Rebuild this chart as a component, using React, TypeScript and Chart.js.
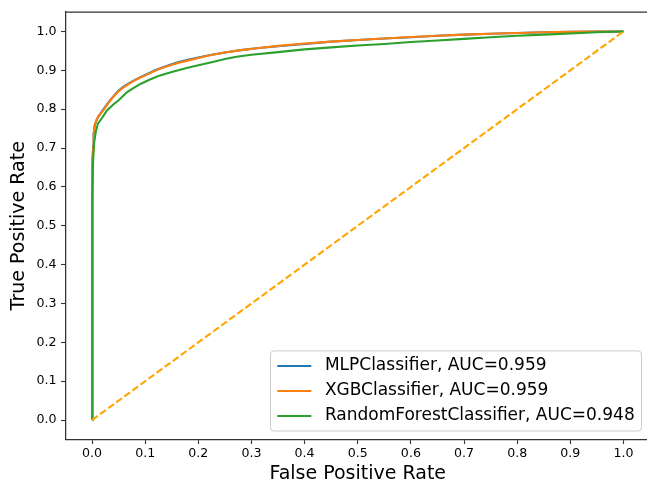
import React, { useEffect, useRef } from 'react';
import { Chart, registerables } from 'chart.js';

Chart.register(...registerables);

// ---- data ----
const xgbFpr = [0, 0, 0.001, 0.002, 0.003, 0.005, 0.008, 0.012, 0.017, 0.022, 0.03, 0.04, 0.05, 0.06, 0.07, 0.08, 0.09, 0.10, 0.12, 0.14, 0.16, 0.18, 0.20, 0.22, 0.25, 0.28, 0.31, 0.35, 0.40, 0.45, 0.50, 0.55, 0.60, 0.65, 0.70, 0.75, 0.80, 0.85, 0.90, 0.95, 1.0];
const xgbTpr = [0, 0.50, 0.65, 0.70, 0.735, 0.76, 0.772, 0.782, 0.79, 0.799, 0.815, 0.832, 0.846, 0.857, 0.866, 0.874, 0.881, 0.887, 0.9, 0.91, 0.918, 0.925, 0.932, 0.938, 0.946, 0.952, 0.957, 0.963, 0.969, 0.974, 0.978, 0.982, 0.986, 0.989, 0.992, 0.994, 0.996, 0.998, 0.999, 1.0, 1.0];

const mlpFpr = [0, 0, 0.001, 0.002, 0.003, 0.005, 0.008, 0.012, 0.017, 0.022, 0.03, 0.04, 0.05, 0.06, 0.07, 0.08, 0.09, 0.10, 0.12, 0.14, 0.16, 0.18, 0.20, 0.22, 0.25, 0.28, 0.31, 0.35, 0.40, 0.45, 0.50, 0.55, 0.60, 0.65, 0.70, 0.75, 0.80, 0.85, 0.90, 0.95, 1.0];
const mlpTpr = [0, 0.52, 0.66, 0.705, 0.738, 0.758, 0.77, 0.781, 0.791, 0.801, 0.816, 0.833, 0.848, 0.859, 0.867, 0.875, 0.882, 0.888, 0.901, 0.911, 0.92, 0.927, 0.933, 0.939, 0.946, 0.952, 0.957, 0.962, 0.968, 0.974, 0.978, 0.982, 0.985, 0.989, 0.992, 0.994, 0.996, 0.998, 0.999, 1.0, 1.0];

const rfFpr = [0, 0, 0.001, 0.002, 0.004, 0.007, 0.011, 0.019, 0.028, 0.04, 0.05, 0.066, 0.08, 0.091, 0.11, 0.128, 0.15, 0.178, 0.2, 0.229, 0.25, 0.272, 0.3, 0.35, 0.4, 0.45, 0.5, 0.55, 0.6, 0.65, 0.7, 0.75, 0.8, 0.85, 0.9, 0.95, 1.0];
const rfTpr = [0, 0.30, 0.58, 0.67, 0.715, 0.742, 0.763, 0.778, 0.797, 0.812, 0.823, 0.844, 0.856, 0.865, 0.877, 0.887, 0.896, 0.906, 0.913, 0.922, 0.929, 0.935, 0.94, 0.947, 0.954, 0.959, 0.964, 0.968, 0.973, 0.977, 0.981, 0.985, 0.989, 0.992, 0.995, 0.998, 1.0];

const chanceFpr = [0, 1];
const chanceTpr = [0, 1];

const seriesLabels = ['MLPClassifier, AUC=0.959', 'XGBClassifier, AUC=0.959', 'RandomForestClassifier, AUC=0.948'];
const seriesColors = ['#1f77b4', '#ff7f0e', '#2ca02c'];

const xTicks = [0.0, 0.1, 0.2, 0.3, 0.4, 0.5, 0.6, 0.7, 0.8, 0.9, 1.0];
const yTicks = [0.0, 0.1, 0.2, 0.3, 0.4, 0.5, 0.6, 0.7, 0.8, 0.9, 1.0];

const xTitle = 'False Positive Rate';
const yTitle = 'True Positive Rate';

const FONT = '"DejaVu Sans", Verdana, sans-serif';

function toPoints(xs: number[], ys: number[]) {
  return xs.map((x, i) => ({ x, y: ys[i] }));
}

const framePlugin = {
  id: 'mplFrame',
  afterDatasetsDraw(chart: any) {
    const { ctx, chartArea } = chart;
    ctx.save();
    ctx.strokeStyle = '#333';
    ctx.lineWidth = 1.25;
    ctx.beginPath();
    ctx.moveTo(chartArea.left, chartArea.top);
    ctx.lineTo(chartArea.right, chartArea.top);
    ctx.lineTo(chartArea.right, chartArea.bottom);
    ctx.stroke();
    ctx.restore();
  },
};

const legendPlugin = {
  id: 'mplLegend',
  afterDraw(chart: any) {
    const { ctx, chartArea } = chart;
    const fs = 17;
    const items = chart.data.datasets
      .filter((d: any) => d.showInLegend)
      .sort((a: any, b: any) => a.legendIndex - b.legendIndex);
    ctx.save();
    ctx.font = `${fs}px ${FONT}`;
    const textW = Math.max(...items.map((it: any) => ctx.measureText(it.label).width));
    const pad = 0.4 * fs;
    const handleLen = 2 * fs;
    const handlePad = 0.8 * fs;
    const spacing = 0.5 * fs;
    const rowH = 16.5;
    const w = 2 * pad + handleLen + handlePad + textW;
    const h = 2 * pad + items.length * rowH + (items.length - 1) * spacing;
    const right = chartArea.right - 0.5 * fs;
    const bottom = chartArea.bottom - 0.5 * fs;
    const left = right - w;
    const top = bottom - h;
    const r = 0.2 * fs;
    ctx.beginPath();
    ctx.moveTo(left + r, top);
    ctx.lineTo(right - r, top);
    ctx.quadraticCurveTo(right, top, right, top + r);
    ctx.lineTo(right, bottom - r);
    ctx.quadraticCurveTo(right, bottom, right - r, bottom);
    ctx.lineTo(left + r, bottom);
    ctx.quadraticCurveTo(left, bottom, left, bottom - r);
    ctx.lineTo(left, top + r);
    ctx.quadraticCurveTo(left, top, left + r, top);
    ctx.closePath();
    ctx.fillStyle = 'rgba(255,255,255,0.8)';
    ctx.fill();
    ctx.strokeStyle = '#cccccc';
    ctx.lineWidth = 1;
    ctx.stroke();
    items.forEach((it: any, i: number) => {
      const cy = top + pad + rowH / 2 + i * (rowH + spacing);
      ctx.beginPath();
      ctx.strokeStyle = it.borderColor;
      ctx.lineWidth = 2.1;
      ctx.moveTo(left + pad, cy);
      ctx.lineTo(left + pad + handleLen, cy);
      ctx.stroke();
      ctx.fillStyle = '#000';
      ctx.textAlign = 'left';
      ctx.textBaseline = 'middle';
      ctx.fillText(it.label, left + pad + handleLen + handlePad, cy);
    });
    ctx.restore();
  },
};

export default function App() {
  const ref = useRef<HTMLCanvasElement>(null);

  useEffect(() => {
    const canvas = ref.current;
    if (!canvas) return;
    const lineBase = { pointRadius: 0, pointHoverRadius: 0, borderWidth: 2.1, tension: 0, fill: false };
    const chart = new Chart(canvas, {
      type: 'line',
      data: {
        datasets: [
          { ...lineBase, label: seriesLabels[0], data: toPoints(mlpFpr, mlpTpr), borderColor: seriesColors[0], backgroundColor: seriesColors[0], order: 4, showInLegend: true, legendIndex: 0 } as any,
          { ...lineBase, label: seriesLabels[1], data: toPoints(xgbFpr, xgbTpr), borderColor: seriesColors[1], backgroundColor: seriesColors[1], order: 3, showInLegend: true, legendIndex: 1 } as any,
          { ...lineBase, label: seriesLabels[2], data: toPoints(rfFpr, rfTpr), borderColor: seriesColors[2], backgroundColor: seriesColors[2], order: 2, showInLegend: true, legendIndex: 2 } as any,
          { ...lineBase, label: 'chance', data: toPoints(chanceFpr, chanceTpr), borderColor: '#ffa500', backgroundColor: '#ffa500', borderDash: [7, 3], order: 1, showInLegend: false } as any,
        ],
      },
      options: {
        animation: false,
        responsive: false,
        devicePixelRatio: 1,
        layout: { padding: { left: 0, top: 11.5, right: 10, bottom: 0 } },
        plugins: { legend: { display: false }, tooltip: { enabled: false } },
        events: [],
        scales: {
          x: {
            type: 'linear',
            min: -0.05,
            max: 1.05,
            afterBuildTicks: (scale: any) => {
              scale.ticks = xTicks.map((v) => ({ value: v }));
            },
            afterFit: (scale: any) => {
              scale.height = 46.5;
            },
            grid: { drawOnChartArea: false, drawTicks: true, tickLength: 4.5, tickWidth: 1.1, tickColor: '#333' },
            border: { display: true, color: '#333', width: 1.25 },
            ticks: {
              autoSkip: false,
              maxRotation: 0,
              padding: 2,
              color: '#000',
              font: { family: FONT, size: 12.6 },
              callback: (v: any) => Number(v).toFixed(1),
            },
            title: {
              display: true,
              text: xTitle,
              color: '#000',
              font: { family: FONT, size: 19, lineHeight: 1.2 },
              padding: { top: 0, bottom: 0.6 },
            },
          },
          y: {
            type: 'linear',
            min: -0.05,
            max: 1.05,
            afterBuildTicks: (scale: any) => {
              scale.ticks = yTicks.map((v) => ({ value: v }));
            },
            afterFit: (scale: any) => {
              scale.width = 65.5;
            },
            grid: { drawOnChartArea: false, drawTicks: true, tickLength: 4.5, tickWidth: 1.1, tickColor: '#333' },
            border: { display: true, color: '#333', width: 1.25 },
            ticks: {
              autoSkip: false,
              padding: 4.5,
              color: '#000',
              font: { family: FONT, size: 12.6 },
              callback: (v: any) => Number(v).toFixed(1),
            },
            title: {
              display: true,
              text: yTitle,
              color: '#000',
              font: { family: FONT, size: 19, lineHeight: 1.2 },
              padding: { top: 8, bottom: 0 },
            },
          },
        },
      },
      plugins: [framePlugin, legendPlugin],
    } as any);
    return () => chart.destroy();
  }, []);

  return (
    <div style={{ position: 'fixed', left: 0, top: 0, width: 647, height: 486, overflow: 'hidden', background: '#fff' }}>
      <canvas ref={ref} width={660} height={486} style={{ display: 'block', width: 660, height: 486 }} />
    </div>
  );
}
